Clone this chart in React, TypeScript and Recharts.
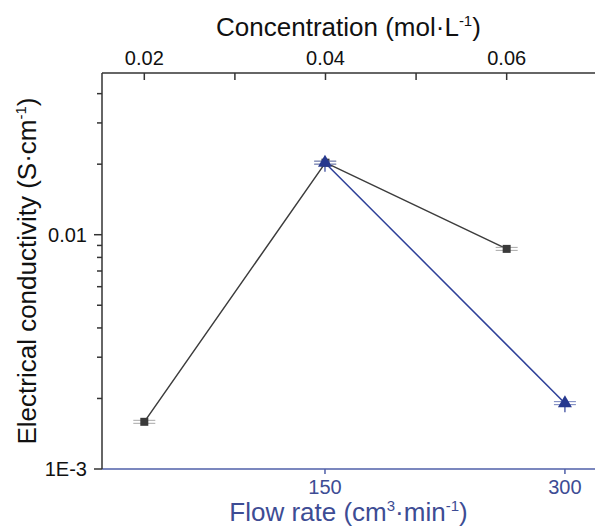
import React from "react"
import { ComposedChart, Line, XAxis, YAxis } from "recharts"

// concentration series (top axis)
const concentration = [0.02, 0.04, 0.06]
const concConductivity = [0.00159, 0.0203, 0.0087]

// flow rate series (bottom axis)
const flowRate = [150, 300]
const flowConductivity = [0.0203, 0.00191]

const concTicks = [0.02, 0.03, 0.04, 0.05, 0.06]
const concLabels = ["0.02", "", "0.04", "", "0.06"]
const flowTicks = [150, 300]
const yTicks = [0.001, 0.002, 0.003, 0.004, 0.005, 0.006, 0.007, 0.008, 0.009, 0.01, 0.02, 0.03, 0.04]
const yLabels: Record<string, string> = { "0.001": "1E-3", "0.01": "0.01" }

const W = 595
const H = 529
const TOP = 73
const LEFT = 102
const BOTTOM = 469
const FONT = "'Liberation Sans', Arial, sans-serif"
const DARK = "#333333"
const BLUE = "#2d3f98"
const BLUE_AXIS = "#4f5fa8"

const concData = concentration.map((c, i) => ({ conc: c, value: concConductivity[i] }))
const flowData = flowRate.map((f, i) => ({ flow: f, value: flowConductivity[i] }))

function SquareDot(p: any) {
  const { cx, cy } = p
  if (cx == null || cy == null) return <g />
  return (
    <g>
      <line x1={cx - 11} x2={cx + 11} y1={cy - 1.5} y2={cy - 1.5} stroke="#a8a8a8" strokeWidth={1} />
      <line x1={cx - 11} x2={cx + 11} y1={cy + 1.5} y2={cy + 1.5} stroke="#a8a8a8" strokeWidth={1} />
      <rect x={cx - 4} y={cy - 4} width={8} height={8} fill="#3a3a3a" />
    </g>
  )
}

function TriangleDot(p: any) {
  const { cx, cy } = p
  if (cx == null || cy == null) return <g />
  return (
    <g>
      <line x1={cx - 11} x2={cx + 11} y1={cy - 1.5} y2={cy - 1.5} stroke="#7482bd" strokeWidth={1} />
      <line x1={cx - 11} x2={cx + 11} y1={cy + 1.5} y2={cy + 1.5} stroke="#7482bd" strokeWidth={1} />
      <line x1={cx} x2={cx} y1={cy} y2={cy + 9} stroke={BLUE} strokeWidth={1.2} />
      <polygon points={`${cx},${cy - 8} ${cx - 7},${cy + 4} ${cx + 7},${cy + 4}`} fill="#26388e" />
    </g>
  )
}

function TopTick(p: any) {
  const { x, index } = p
  const label = concLabels[index]
  return (
    <g>
      <line x1={x} x2={x} y1={TOP} y2={TOP + 7} stroke={DARK} strokeWidth={1.5} />
      {label ? (
        <text x={x} y={TOP - 8} textAnchor="middle" fontSize={20} fontFamily={FONT} fill="#111">
          {label}
        </text>
      ) : null}
    </g>
  )
}

function BottomTick(p: any) {
  const { x, payload } = p
  return (
    <g>
      <line x1={x} x2={x} y1={BOTTOM} y2={BOTTOM + 5} stroke={BLUE_AXIS} strokeWidth={1.5} />
      <text x={x} y={BOTTOM + 25} textAnchor="middle" fontSize={20} fontFamily={FONT} fill="#3d4c94">
        {payload.value}
      </text>
    </g>
  )
}

function LeftTick(p: any) {
  const { y, payload } = p
  const label = yLabels[String(payload.value)]
  const len = label ? 8 : 5
  return (
    <g>
      <line x1={LEFT - len} x2={LEFT} y1={y} y2={y} stroke={DARK} strokeWidth={1.5} />
      {label ? (
        <text x={LEFT - 15} y={y} textAnchor="end" dominantBaseline="central" fontSize={20} fontFamily={FONT} fill="#111">
          {label}
        </text>
      ) : null}
    </g>
  )
}

const topTitle = () => (
  <text x={(LEFT + W) / 2} y={36} textAnchor="middle" fontSize={26} fontFamily={FONT} fill="#111">
    Concentration (mol·L<tspan dy={-10} fontSize={15}>-1</tspan>
    <tspan dy={10}>)</tspan>
  </text>
)

const bottomTitle = () => (
  <text x={(LEFT + W) / 2} y={521} textAnchor="middle" fontSize={26} fontFamily={FONT} fill="#3d4c94">
    Flow rate (cm<tspan dy={-10} fontSize={15}>3</tspan>
    <tspan dy={10}>·min</tspan>
    <tspan dy={-10} fontSize={15}>-1</tspan>
    <tspan dy={10}>)</tspan>
  </text>
)

const leftTitle = () => (
  <text
    x={36}
    y={(TOP + BOTTOM) / 2}
    transform={`rotate(-90, 36, ${(TOP + BOTTOM) / 2})`}
    textAnchor="middle"
    fontSize={26}
    fontFamily={FONT}
    fill="#111"
  >
    Electrical conductivity (S·cm<tspan dy={-10} fontSize={15}>-1</tspan>
    <tspan dy={10}>)</tspan>
  </text>
)

export default function App() {
  return (
    <div style={{ position: "absolute", left: 0, top: 0, width: W, height: H, background: "#fff" }}>
      <ComposedChart width={W} height={H} margin={{ top: 0, right: 0, bottom: 0, left: 0 }}>
        <XAxis
          xAxisId="conc"
          orientation="top"
          type="number"
          dataKey="conc"
          domain={[0.01533, 0.06975]}
          allowDataOverflow
          ticks={concTicks}
          interval={0}
          height={TOP}
          tickLine={false}
          axisLine={{ stroke: DARK, strokeWidth: 1.5 }}
          tick={<TopTick />}
          label={topTitle}
        />
        <XAxis
          xAxisId="flow"
          orientation="bottom"
          type="number"
          dataKey="flow"
          domain={[10.6, 318.8]}
          allowDataOverflow
          ticks={flowTicks}
          interval={0}
          height={H - BOTTOM}
          tickLine={false}
          axisLine={{ stroke: BLUE_AXIS, strokeWidth: 1.5 }}
          tick={<BottomTick />}
          label={bottomTitle}
        />
        <YAxis
          type="number"
          scale="log"
          domain={[0.001, 0.049]}
          allowDataOverflow
          ticks={yTicks}
          interval={0}
          width={LEFT}
          tickLine={false}
          axisLine={{ stroke: DARK, strokeWidth: 1.5 }}
          tick={<LeftTick />}
          label={leftTitle}
        />
        <Line
          xAxisId="conc"
          data={concData}
          dataKey="value"
          type="linear"
          stroke="#3c3c3c"
          strokeWidth={1.5}
          dot={(p: any) => <SquareDot key={`s${p.index}`} {...p} />}
          activeDot={false}
          isAnimationActive={false}
        />
        <Line
          xAxisId="flow"
          data={flowData}
          dataKey="value"
          type="linear"
          stroke={BLUE}
          strokeWidth={1.5}
          dot={(p: any) => <TriangleDot key={`t${p.index}`} {...p} />}
          activeDot={false}
          isAnimationActive={false}
        />
      </ComposedChart>
    </div>
  )
}
